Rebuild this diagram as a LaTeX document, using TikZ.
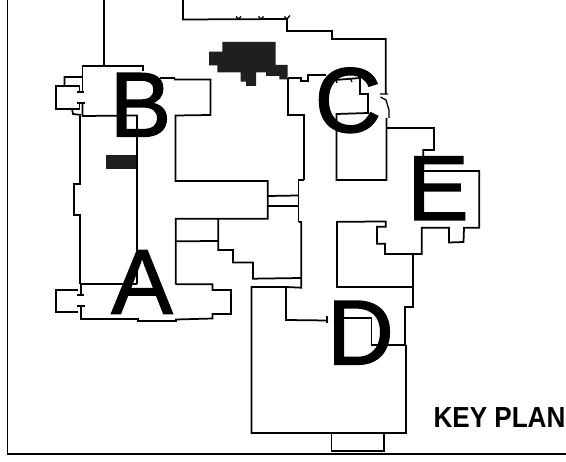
\documentclass[tikz,border=0pt]{standalone}
\usepackage{fontspec}
\setmainfont{Liberation Sans}
\newfontfamily\heavyface[FakeBold=1.6]{Liberation Sans}
\tikzset{
  wall/.style={line width=1.75pt,line cap=butt,line join=miter,color=black},
  thin wall/.style={line width=1.3pt,color=black},
  blob/.style={fill=black!88,draw=none},
  bigletter/.style={inner sep=0pt,outer sep=0pt,anchor=base,font=\heavyface\fontsize{92}{92}\selectfont,text=black},
  keytext/.style={inner sep=0pt,outer sep=0pt,anchor=base west,font=\bfseries\fontsize{29}{29}\selectfont,xscale=.9,text=black}
}
\begin{document}
\begin{tikzpicture}[x=1pt,y=-1pt]
\useasboundingbox (0,0) rectangle (566,462);
\fill[white] (0,0) rectangle (566,462);
% frame
\draw[line width=1.9pt,color=black] (7.5,0) -- (7.5,454.3) -- (566,454.3);
% hatched blobs
\fill[blob] (222.3,42) -- (275.5,42) -- (275.5,65) -- (287.5,65) -- (287.5,79.5) -- (279.3,79.5) -- (279.3,76) -- (266,76) -- (266,72.3) -- (256,72.3) -- (256,86) -- (246,86) -- (246,81.7) -- (240.7,81.7) -- (240.7,72.3) -- (217.3,72.3) -- (217.3,65.3) -- (209,65.3) -- (209,51.7) -- (222.3,51.7) -- cycle;
\fill[blob] (106,155) rectangle (138,169.5);
% top and north wing
\draw[wall] (104,0) -- (104,66);
\draw[wall] (183,0) -- (183,19.5) -- (287,19) -- (287,31) -- (332,31) -- (332,39) -- (385.8,39) -- (385.8,94);
\draw[thin wall] (236,16.5) -- (238.5,19) -- (241,16.5) (258.5,16.5) -- (261,19) -- (263.5,16.5) (284.5,16.5) -- (287,19) -- (290,15.5) (380,94) -- (388,94);
\draw[thin wall] (380.5,97) -- (386,100) -- (389,110) -- (389,118);
% B block
\draw[wall] (143,71) -- (143,66) -- (82.5,66) -- (82.5,92);
\draw[wall] (82.5,103) -- (82.5,116) -- (137,115.5) -- (137,284);
\draw[wall] (82,77) -- (64.5,77) -- (64.5,86) -- (56,86) -- (56,109) -- (72,109) -- (73,114) -- (81,115);
\draw[wall] (64.5,86) -- (79.5,86) -- (79.5,92);
\draw[wall] (72,109) -- (79.5,109) -- (79.5,103);
\draw[thin wall] (77,92) -- (84,92) (77,103) -- (85,103);
\draw[wall] (160,78) -- (175,78) (174,79.5) -- (210.5,79.5) -- (210.5,115) -- (175.5,115.5) -- (175.5,181) -- (267.7,181) -- (267.7,218.7) -- (175.7,218.7) -- (175.7,284.3);
\draw[wall] (80,116) -- (80,184) -- (74,184) -- (74,215) -- (80,215) -- (80,284);
% A block
\draw[wall] (80,284) -- (137,284);
\draw[wall] (78,290) -- (56,290) -- (56,312) -- (78,312);
\draw[wall] (81,285) -- (81,295) (81,306) -- (81,319) -- (138,319) -- (138,321) -- (176,321) -- (176,319.5) -- (212.5,318.5) -- (212.5,314) -- (231,314) -- (231,290) -- (212.5,290) -- (212.5,284.3) -- (175.7,284.3);
\draw[thin wall] (77,295) -- (84,295) (77,306) -- (85,306);
% centre
\draw[wall] (175.7,241.3) -- (218.3,241) (218.3,218.7) -- (218.3,250) -- (233,250) -- (233,262.5) -- (253,262.5) -- (253,278.7) -- (301.3,278);
\draw[wall] (298.5,222) -- (301.3,222) -- (301.3,287.7) -- (286,287) -- (251.5,287) -- (251.5,433) -- (406,433) -- (406,345);
\draw[wall] (267.7,196) -- (298.5,195.5) (267.7,206) -- (298.5,206);
\draw[wall] (303.5,170) -- (303.5,180) -- (298.5,180) -- (298.5,222);
% D block
\draw[wall] (286,287) -- (286,320) -- (328,320.5);
\draw[thin wall] (327,316.5) -- (327,323);
\draw[wall] (336,318.3) -- (371.5,318.3) -- (371.5,345) -- (404.7,345) -- (404.7,307) -- (413.3,307) -- (413.3,254) -- (385,254);
\draw[wall] (331.5,433) -- (331.5,451) -- (384,451) -- (384,433);
% E block
\draw[wall] (337,221.8) -- (385.7,221.5) -- (385.7,226.7) -- (377,226.7) -- (377,243.7) -- (385,243.7) -- (385,254) -- (421.7,254) -- (421.7,227.7) -- (449,227.7) -- (449,242.5) -- (463.5,242) -- (464,227.7) -- (479.3,227.7) -- (479.3,171) -- (423.3,171) -- (423.3,150) -- (434,150) -- (434,128) -- (386.5,128);
\draw[wall] (337,221) -- (337,287) -- (413.3,287);
% C block
\draw[wall] (386.5,118) -- (386.5,180) -- (336.5,180) -- (336.5,114) -- (368,113) -- (368,94) -- (360,94) -- (360,78) -- (335,80);
\draw[wall] (288,78) -- (301,78) -- (301,80.7) -- (308,80.7) -- (308,75) -- (326,75);
\draw[wall] (288,78) -- (288,115) -- (303.7,115) -- (303.7,180);
\draw[thin wall] (335,78) -- (337,83) (350,78) -- (352,82);
% labels
\node[bigletter] (labA) at (142,313.7) {A};
\node[bigletter] (labB) at (140.5,136.5) {B};
\node[bigletter] (labC) at (348,132) {C};
\node[bigletter] (labD) at (360.5,364.3) {D};
\node[bigletter] (labE) at (438,220) {E};
\node[keytext] (keyplan) at (433.5,428) {KEY PLAN};
\end{tikzpicture}
\end{document}
